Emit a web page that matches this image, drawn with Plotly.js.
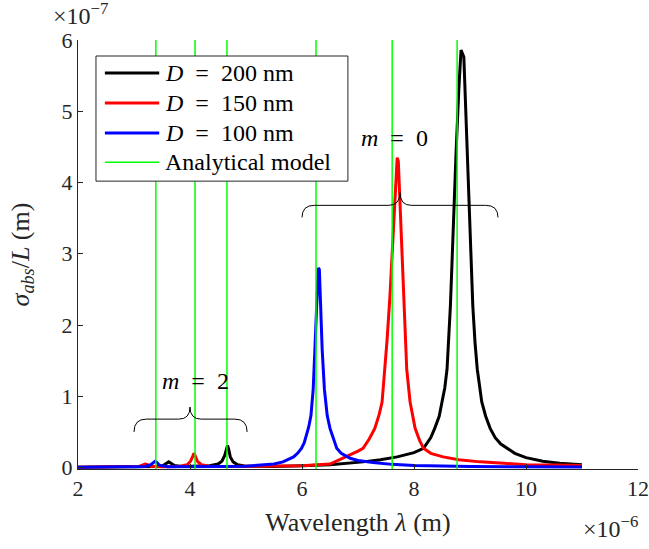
<!DOCTYPE html>
<html>
<head>
<meta charset="utf-8">
<script src="https://cdn.plot.ly/plotly-3.0.1.min.js"></script>
<style>html,body{margin:0;padding:0;background:#fff;}</style>
</head>
<body>
<div id="chart" style="width:649px;height:549px;"></div>
<script>
// Wavelength in units of 1e-6 m, sigma_abs/L in units of 1e-7 m
const wlD200 = [2.0, 2.4, 2.8, 3.1, 3.4, 3.52, 3.58, 3.62, 3.66, 3.72, 3.85, 4.1, 4.35, 4.5, 4.57, 4.62, 4.65, 4.67, 4.69, 4.72, 4.77, 4.85, 5.0, 5.5, 6.0, 6.5, 7.09, 7.4, 7.7, 8.0, 8.17, 8.3, 8.37, 8.45, 8.5, 8.55, 8.59, 8.62, 8.65, 8.68, 8.71, 8.75, 8.8, 8.84, 8.89, 8.93, 8.98, 9.02, 9.05, 9.09, 9.13, 9.21, 9.28, 9.36, 9.45, 9.55, 9.66, 9.8, 10.0, 10.3, 10.6, 11.0];
const absD200 = [0.005, 0.008, 0.01, 0.012, 0.015, 0.03, 0.06, 0.08, 0.06, 0.03, 0.015, 0.015, 0.025, 0.05, 0.09, 0.17, 0.26, 0.31, 0.26, 0.15, 0.08, 0.04, 0.02, 0.015, 0.025, 0.04, 0.08, 0.11, 0.15, 0.21, 0.27, 0.42, 0.55, 0.72, 0.92, 1.12, 1.38, 1.75, 2.27, 2.9, 3.66, 4.4, 5.3, 5.86, 5.76, 4.9, 3.66, 2.9, 2.27, 1.75, 1.38, 0.92, 0.72, 0.55, 0.42, 0.33, 0.27, 0.2, 0.14, 0.09, 0.06, 0.04];

const wlD150 = [2.0, 2.5, 2.9, 3.1, 3.17, 3.2, 3.24, 3.3, 3.5, 3.8, 3.95, 4.01, 4.05, 4.07, 4.09, 4.13, 4.2, 4.35, 4.6, 5.0, 5.5, 6.0, 6.5, 6.73, 6.9, 7.0, 7.09, 7.2, 7.3, 7.38, 7.43, 7.48, 7.52, 7.57, 7.62, 7.66, 7.7, 7.72, 7.75, 7.78, 7.82, 7.85, 7.87, 7.93, 8.02, 8.1, 8.17, 8.3, 8.52, 8.8, 9.18, 9.6, 10.0, 10.5, 11.0];
const absD150 = [0.005, 0.008, 0.012, 0.02, 0.04, 0.05, 0.04, 0.02, 0.012, 0.015, 0.04, 0.09, 0.16, 0.2, 0.17, 0.09, 0.04, 0.02, 0.015, 0.015, 0.02, 0.025, 0.05, 0.13, 0.19, 0.23, 0.27, 0.4, 0.55, 0.75, 0.92, 1.38, 1.8, 2.4, 3.2, 3.9, 4.35, 4.3, 3.7, 3.2, 2.4, 1.8, 1.38, 0.92, 0.55, 0.38, 0.27, 0.2, 0.15, 0.11, 0.08, 0.06, 0.04, 0.035, 0.03];

const wlD100 = [2.0, 2.4, 2.62, 2.7, 2.78, 3.0, 3.2, 3.3, 3.35, 3.38, 3.41, 3.46, 3.6, 4.0, 4.5, 5.0, 5.3, 5.5, 5.66, 5.75, 5.85, 5.92, 5.99, 6.04, 6.08, 6.12, 6.16, 6.2, 6.23, 6.26, 6.29, 6.31, 6.33, 6.36, 6.4, 6.45, 6.5, 6.56, 6.62, 6.7, 6.86, 7.0, 7.27, 7.6, 8.0, 9.0, 10.0, 11.0];
const absD100 = [0.005, 0.008, 0.012, 0.02, 0.012, 0.01, 0.015, 0.04, 0.07, 0.09, 0.07, 0.03, 0.012, 0.01, 0.015, 0.02, 0.035, 0.05, 0.08, 0.11, 0.15, 0.2, 0.27, 0.35, 0.45, 0.57, 0.73, 1.1, 1.66, 2.3, 2.8, 2.78, 2.3, 1.66, 1.1, 0.73, 0.55, 0.4, 0.27, 0.2, 0.13, 0.1, 0.07, 0.045, 0.03, 0.015, 0.01, 0.008];

// Analytical model resonance wavelengths (1e-6 m)
const modelWavelengths = [3.39, 4.09, 4.66, 6.25, 7.61, 8.77];

const seriesNames = ['<i>D</i>\u2002=\u2002200 nm', '<i>D</i>\u2002=\u2002150 nm', '<i>D</i>\u2002=\u2002100 nm', 'Analytical model'];
const seriesColors = ['#000000', '#ff0000', '#0000ff', '#00ff00'];
const seriesWidths = [3, 3, 3, 1.5];

const xTicks = [2, 4, 6, 8, 10, 12];
const yTicks = [0, 1, 2, 3, 4, 5, 6];
const xRange = [2, 12];
const yRange = [-0.02, 6];

// mode labels and bracket spans: [x0, x1, center, yBottom, yMid, yTip]
const modeLabels = ['<i>m</i>\u2002=\u20022', '<i>m</i>\u2002=\u20020'];
const modeLabelPos = [[4.1, 1.22], [7.66, 4.63]];
const bracketSpans = [[3.0, 5.02, 4.0, 0.5, 0.68, 0.85], [6.0, 9.5, 7.75, 3.51, 3.68, 3.86]];

const FONT = 'Liberation Serif, Times New Roman, serif';
const AX = '#262626';

const data = [wlD200, wlD150, wlD100];
const vals = [absD200, absD150, absD100];
const traces = data.map((x, i) => ({x: x, y: vals[i], name: seriesNames[i], mode: 'lines',
  line: {color: seriesColors[i], width: seriesWidths[i]}, showlegend: false}));
const gx = [], gy = [];
modelWavelengths.forEach(w => { gx.push(w, w, null); gy.push(yRange[0], yRange[1], null); });
traces.push({x: gx, y: gy, name: seriesNames[3], mode: 'lines', line: {color: seriesColors[3], width: seriesWidths[3]}, showlegend: false});

function bracePath(b) {
  const [x0, x1, xc, yb, ym, yt] = b;
  const r = 0.22, rc = 0.2;
  return `M ${x0} ${yb} Q ${x0} ${ym} ${x0 + r} ${ym} L ${xc - rc} ${ym} Q ${xc} ${ym} ${xc} ${yt} ` +
         `Q ${xc} ${ym} ${xc + rc} ${ym} L ${x1 - r} ${ym} Q ${x1} ${ym} ${x1} ${yb}`;
}
const shapes = bracketSpans.map(b => ({type: 'path', xref: 'x', yref: 'y', path: bracePath(b), line: {color: '#000', width: 1}}));

// manual legend box (paper coordinates)
const legBox = {x0: 0.0321, x1: 0.482, y0: 0.671, y1: 0.9627};
const legRowY = [0.923, 0.853, 0.783, 0.715];
shapes.push({type: 'rect', xref: 'paper', yref: 'paper', x0: legBox.x0, x1: legBox.x1, y0: legBox.y0, y1: legBox.y1,
  fillcolor: '#fff', line: {color: AX, width: 1}, layer: 'above'});
seriesNames.forEach((n, i) => {
  shapes.push({type: 'line', xref: 'paper', yref: 'paper', x0: 0.048, x1: 0.145, y0: legRowY[i], y1: legRowY[i],
    line: {color: seriesColors[i], width: seriesWidths[i]}, layer: 'above'});
});

const annotations = modeLabels.map((t, i) => ({
  x: modeLabelPos[i][0], y: modeLabelPos[i][1], xref: 'x', yref: 'y', text: t, showarrow: false,
  font: {family: FONT, size: 24, color: '#000'}
}));
seriesNames.forEach((n, i) => {
  annotations.push({xref: 'paper', yref: 'paper', x: 0.1518, y: legRowY[i], xanchor: 'left', yanchor: 'middle',
    text: n, showarrow: false, font: {family: FONT, size: 24, color: '#000'}});
});
annotations.push({xref: 'paper', yref: 'paper', x: -0.048, y: 1.06, xanchor: 'left', yanchor: 'middle',
  text: '×10<sup>−7</sup>', showarrow: false, font: {family: FONT, size: 24, color: AX}});
annotations.push({xref: 'paper', yref: 'paper', x: 1.004, y: -0.135, xanchor: 'right', yanchor: 'middle',
  text: '×10<sup>−6</sup>', showarrow: false, font: {family: FONT, size: 24, color: AX}});

const layout = {
  width: 649, height: 549,
  margin: {l: 78, r: 11, t: 40, b: 80},
  paper_bgcolor: '#fff', plot_bgcolor: '#fff',
  font: {family: FONT, color: AX},
  showlegend: false,
  xaxis: {range: xRange, tickvals: xTicks, ticktext: xTicks.map(String), ticks: 'inside', ticklen: 5, tickcolor: AX,
          showline: true, linecolor: AX, linewidth: 1, showgrid: false, zeroline: false, automargin: false,
          tickfont: {family: FONT, size: 22, color: AX},
          title: {text: 'Wavelength <i>λ</i> (m)', font: {family: FONT, size: 26, color: AX}, standoff: 12}},
  yaxis: {range: yRange, tickvals: yTicks, ticktext: yTicks.map(String), ticks: 'inside', ticklen: 5, tickcolor: AX,
          showline: true, linecolor: AX, linewidth: 1, showgrid: false, zeroline: false, automargin: false,
          tickfont: {family: FONT, size: 22, color: AX},
          title: {text: '<i>σ</i><sub><i>abs</i></sub>/<i>L</i> (m)', font: {family: FONT, size: 26, color: AX}, standoff: 24}},
  shapes: shapes,
  annotations: annotations
};

Plotly.newPlot('chart', traces, layout, {displayModeBar: false, staticPlot: true});
</script>
</body>
</html>
